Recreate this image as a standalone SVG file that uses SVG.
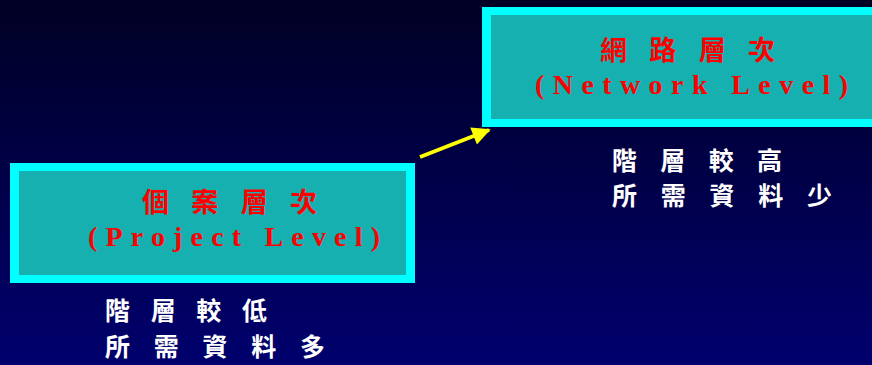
<svg xmlns="http://www.w3.org/2000/svg" width="872" height="365" viewBox="0 0 872 365">
  <defs>
    <linearGradient id="bg" x1="0" y1="0" x2="0" y2="1">
      <stop offset="0" stop-color="#000024"/>
      <stop offset="1" stop-color="#00006e"/>
    </linearGradient>
    <marker id="ah" viewBox="0 0 10 10" refX="9" refY="5" markerWidth="5" markerHeight="4.6" orient="auto" markerUnits="strokeWidth">
      <path d="M0,0 L10,5 L0,10 Z" fill="#ffff00"/>
    </marker>
    <style>
      .outer { fill: #00ffff; }
      .inner { fill: #16b0b0; }
      .title { font-family: "Noto Sans CJK TC", "Noto Serif CJK TC", serif; font-weight: bold; font-size: 27px; fill: #ff0000; }
      .sub { font-family: "Liberation Serif", "DejaVu Serif", serif; font-weight: bold; font-size: 28px; fill: #ff0000; }
      .note { font-family: "Noto Sans CJK TC", sans-serif; font-weight: bold; font-size: 25px; fill: #ffffff; }
    </style>
  </defs>
  <rect width="872" height="365" fill="url(#bg)"/>
  <g id="connectors">
    <line x1="420" y1="157" x2="489" y2="130" stroke="#ffff00" stroke-width="4" marker-end="url(#ah)"/>
  </g>
  <g id="node-project">
    <rect class="outer" x="10" y="163" width="405" height="120"/>
    <rect class="inner" x="19" y="171" width="387" height="104"/>
    <text class="title" x="142" y="212" textLength="175" lengthAdjust="spacing">個案層次</text>
    <text class="sub" x="88" y="246" textLength="292" lengthAdjust="spacing">(Project Level)</text>
  </g>
  <g id="node-network">
    <rect class="outer" x="482" y="7" width="400" height="120"/>
    <rect class="inner" x="491" y="15" width="400" height="104"/>
    <text class="title" x="600" y="60" textLength="175" lengthAdjust="spacing">網路層次</text>
    <text class="sub" x="535" y="94" textLength="313" lengthAdjust="spacing">(Network Level)</text>
  </g>
  <g id="note-project">
    <text class="note" x="105" y="320" textLength="162" lengthAdjust="spacing">階層較低</text>
    <text class="note" x="105" y="356" textLength="220" lengthAdjust="spacing">所需資料多</text>
  </g>
  <g id="note-network">
    <text class="note" x="612" y="170" textLength="170" lengthAdjust="spacing">階層較高</text>
    <text class="note" x="612" y="205" textLength="220" lengthAdjust="spacing">所需資料少</text>
  </g>
</svg>
